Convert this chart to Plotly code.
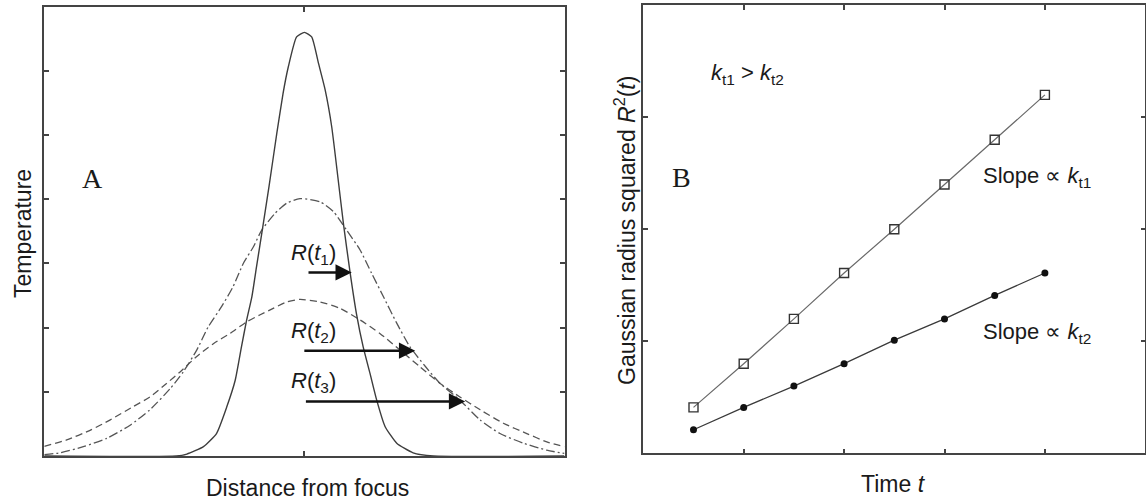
import plotly.graph_objects as go

W, H = 1146, 502

# ---------------- Panel A: temperature profiles ----------------
solid_x = [-5.0, -2.46, -2.26, -1.94, -1.69, -1.49, -1.33, -1.21, -1.11, -1.01, -0.92, -0.79,
           -0.68, -0.53, -0.41, -0.31, -0.15, 0.0, 0.14, 0.27, 0.40, 0.525, 0.65, 0.75, 0.88,
           1.0, 1.13, 1.26, 1.39, 1.55, 1.775, 2.09, 2.48, 5.0]
solid_y = [0.0, 0.0, 0.03, 0.145, 0.35, 0.77, 1.18, 1.70, 2.12, 2.48, 2.95, 3.62,
           4.20, 5.03, 5.65, 6.06, 6.53, 6.60, 6.53, 6.12, 5.70, 5.13, 4.30, 3.62, 2.85,
           2.22, 1.70, 1.29, 0.87, 0.46, 0.20, 0.05, 0.0, 0.0]

dashdot_x = [-5.0, -4.70, -4.25, -3.80, -3.35, -2.97, -2.58, -2.33, -2.07, -1.85, -1.59, -1.37,
             -1.175, -0.98, -0.82, -0.565, -0.34, -0.085, 0.30, 0.555, 0.81, 1.07, 1.29, 1.52,
             1.775, 2.03, 2.33, 2.61, 2.99, 3.38, 3.76, 4.21, 4.66, 5.0]
dashdot_y = [0.02, 0.05, 0.145, 0.275, 0.48, 0.72, 1.05, 1.31, 1.65, 2.01, 2.33, 2.64,
             3.0, 3.26, 3.52, 3.78, 3.94, 4.01, 3.96, 3.81, 3.52, 3.21, 2.85, 2.48,
             2.07, 1.70, 1.39, 1.13, 0.87, 0.56, 0.35, 0.20, 0.09, 0.04]

dashed_x = [-5.0, -4.57, -4.12, -3.74, -3.29, -2.97, -2.65, -2.39, -2.07, -1.75, -1.43, -1.11,
            -0.85, -0.60, -0.34, -0.085, 0.30, 0.685, 1.07, 1.45, 1.84, 2.22, 2.61, 2.99,
            3.38, 3.825, 4.275, 4.66, 5.0]
dashed_y = [0.15, 0.25, 0.40, 0.56, 0.77, 0.92, 1.13, 1.31, 1.55, 1.75, 1.91, 2.09,
            2.20, 2.30, 2.40, 2.44, 2.40, 2.30, 2.12, 1.91, 1.65, 1.39, 1.13, 0.92,
            0.72, 0.51, 0.35, 0.22, 0.145]

arrow_tail_x = [0.05, -0.03, 0.0]
arrow_head_x = [0.91, 2.13, 3.09]
arrow_y = [2.86, 1.64, 0.85]
arrow_labels = ["<i>R</i>(<i>t</i><sub>1</sub>)",
                "<i>R</i>(<i>t</i><sub>2</sub>)",
                "<i>R</i>(<i>t</i><sub>3</sub>)"]

# ---------------- Panel B: Gaussian radius squared vs time ----------------
time_t = [0.5, 1.0, 1.5, 2.0, 2.5, 3.0, 3.5, 4.0]
r2_kt1 = [0.41, 0.80, 1.20, 1.61, 2.00, 2.40, 2.80, 3.20]
r2_kt2 = [0.21, 0.41, 0.60, 0.80, 1.01, 1.20, 1.41, 1.61]

SANS = "Liberation Sans, Arial, Helvetica, sans-serif"
SERIF = "Liberation Serif, Times New Roman, serif"
INK = "#1a1a1a"
FRAME = "#444444"


def px(xp, yp):
    """pixel position -> paper coordinates (margins are zero)"""
    return xp / W, 1 - yp / H


fig = go.Figure()

fig.add_trace(go.Scatter(x=dashed_x, y=dashed_y, mode="lines", xaxis="x", yaxis="y",
                         line=dict(color="#555555", width=1.3, dash="7px,4px",
                                   shape="spline", smoothing=0.6)))
fig.add_trace(go.Scatter(x=dashdot_x, y=dashdot_y, mode="lines", xaxis="x", yaxis="y",
                         line=dict(color="#555555", width=1.3, dash="9px,3px,2px,3px",
                                   shape="spline", smoothing=0.6)))
fig.add_trace(go.Scatter(x=solid_x, y=solid_y, mode="lines", xaxis="x", yaxis="y",
                         line=dict(color="#3d3d3d", width=1.4, shape="spline", smoothing=0.5)))

fig.add_trace(go.Scatter(x=time_t, y=r2_kt1, mode="lines+markers", xaxis="x2", yaxis="y2",
                         line=dict(color="#6a6a6a", width=1.2),
                         marker=dict(symbol="square-open", size=9, color="#333333",
                                     line=dict(width=1.4, color="#333333"))))
fig.add_trace(go.Scatter(x=time_t, y=r2_kt2, mode="lines+markers", xaxis="x2", yaxis="y2",
                         line=dict(color="#3a3a3a", width=1.3),
                         marker=dict(symbol="circle", size=7, color="#111111")))

axis_common = dict(showgrid=False, zeroline=False, showline=True, mirror="ticks",
                   linecolor=FRAME, linewidth=1.6, ticks="inside", ticklen=5,
                   tickcolor=FRAME, tickwidth=1.5, showticklabels=False, fixedrange=True)

annotations = []

# arrows in panel A
for tx, hx, ay in zip(arrow_tail_x, arrow_head_x, arrow_y):
    annotations.append(dict(x=hx, y=ay, ax=tx, ay=ay, xref="x", yref="y", axref="x", ayref="y",
                            text="", showarrow=True, arrowhead=2, arrowsize=1.25,
                            arrowwidth=2.6, arrowcolor="#111111", standoff=0))

label_pos = [(313, 254), (313, 332), (313, 382)]
for (xp, yp), lab in zip(label_pos, arrow_labels):
    x, y = px(xp, yp)
    annotations.append(dict(x=x, y=y, xref="paper", yref="paper", text=lab, showarrow=False,
                            xanchor="center", yanchor="middle",
                            font=dict(family=SANS, size=22, color=INK)))


def text(xp, yp, s, size=23, family=SANS, angle=0, xanchor="center"):
    x, y = px(xp, yp)
    annotations.append(dict(x=x, y=y, xref="paper", yref="paper", text=s, showarrow=False,
                            xanchor=xanchor, yanchor="middle", textangle=angle,
                            font=dict(family=family, size=size, color=INK)))


text(92, 178, "A", size=28, family=SERIF)
text(681, 177, "B", size=28, family=SERIF)
text(23, 234, "Temperature", angle=-90)
text(307.5, 488, "Distance from focus")
text(625, 231, "Gaussian radius squared <i>R</i><sup>2</sup>(<i>t</i>)", angle=-90)
text(893, 484, "Time <i>t</i>")
text(747, 74, "<i>k</i><sub>t1</sub> &gt; <i>k</i><sub>t2</sub>", size=22)
text(981, 177, "Slope ∝ <i>k</i><sub>t1</sub>", size=22, xanchor="left")
text(981, 333, "Slope ∝ <i>k</i><sub>t2</sub>", size=22, xanchor="left")

fig.update_layout(
    width=W, height=H,
    margin=dict(l=0, r=0, t=0, b=0),
    paper_bgcolor="white", plot_bgcolor="white",
    showlegend=False,
    xaxis=dict(domain=[44.3 / W, 564.5 / W], range=[-5, 5], tickvals=[0], anchor="y", **axis_common),
    yaxis=dict(domain=[1 - 456 / H, 1 - 6.7 / H], range=[0, 7], tickvals=[1, 2, 3, 4, 5, 6],
               anchor="x", **axis_common),
    xaxis2=dict(domain=[643.3 / W, 1145.3 / W], range=[0, 5], tickvals=[1, 2, 3, 4], anchor="y2",
                **axis_common),
    yaxis2=dict(domain=[1 - 453.3 / H, 1 - 5.3 / H], range=[0, 4], tickvals=[1, 2, 3], anchor="x2",
                **axis_common),
    annotations=annotations,
)

fig.write_html(
    "out.html",
    config={"displayModeBar": False},
    post_script="document.body.style.margin='0';document.body.style.overflow='hidden';",
)
